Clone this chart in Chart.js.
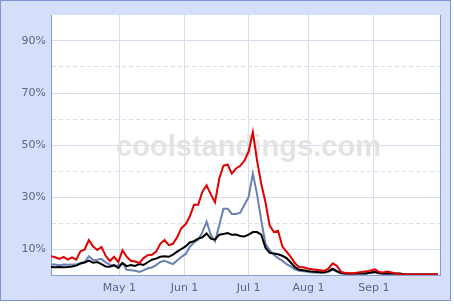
<!DOCTYPE html>
<html lang="en">
<head>
    <meta charset="UTF-8">
    <title>Standings chart</title>
    <script src="https://cdn.jsdelivr.net/npm/chart.js"></script>
    <style>
        html, body { margin: 0; padding: 0; background: #fff; }
        canvas { display: block; }
    </style>
</head>
<body>
    <canvas id="standingsChart" width="454" height="304"></canvas>

    <script>
        // one sample every 2 days, starting at day 0
        const DAY_STEP = 2;
        const tickDays = [32.5, 63.5, 94, 122.5, 153.5];
        const tickLabels = ['May 1', 'Jun 1', 'Jul 1', 'Aug 1', 'Sep 1'];

        const redValues = [
            7.2, 6.8, 6.2, 7.0, 5.9, 6.8, 5.9, 9.1, 9.8, 13.4,
            11.0, 9.6, 10.8, 7.4, 5.4, 7.0, 5.0, 9.5, 7.0, 5.5,
            5.2, 4.6, 6.5, 7.6, 7.8, 9.0, 12.0, 13.5, 11.5, 12.0,
            14.5, 18.0, 19.5, 22.5, 27.0, 27.0, 32.0, 34.5, 31.0, 28.0,
            37.0, 42.0, 42.5, 39.0, 41.0, 42.0, 44.0, 47.5, 55.0, 44.0,
            35.0, 28.0, 19.0, 16.5, 17.0, 11.0, 9.0, 7.0, 4.5, 3.0,
            3.0, 2.5, 2.2, 2.0, 1.8, 1.6, 2.5, 4.5, 3.5, 1.2,
            0.8, 0.6, 0.7, 1.0, 1.2, 1.4, 1.7, 2.2, 1.2, 1.0,
            1.3, 1.0, 0.6, 0.3, 0.2, 0.2, 0.2, 0.2, 0.2, 0.2,
            0.2, 0.2, 0.2
        ];
        const blueValues = [
            4.0, 4.0, 3.8, 4.0, 3.9, 4.0, 4.0, 4.6, 5.0, 7.2,
            5.8, 5.9, 6.2, 4.8, 4.0, 3.4, 3.8, 4.6, 2.0, 1.8,
            1.6, 1.2, 1.8, 2.6, 2.9, 3.8, 5.0, 5.5, 4.8, 4.2,
            5.6, 7.0, 8.0, 10.8, 12.5, 13.5, 16.5, 20.5, 15.5, 13.0,
            19.0, 25.5, 25.5, 23.5, 23.5, 24.0, 27.0, 30.0, 39.0, 31.0,
            21.0, 12.0, 9.5, 7.8, 6.5, 5.5, 4.2, 3.3, 2.2, 1.6,
            1.4, 1.2, 1.0, 1.0, 0.9, 0.9, 1.2, 2.0, 1.2, 0.6,
            0.5, 0.5, 0.5, 0.6, 0.6, 0.7, 0.8, 1.0, 0.6, 0.5,
            0.5, 0.5, 0.5, 0.5, 0.2, 0.2, 0.2, 0.2, 0.2, 0.2,
            0.2, 0.2, 0.2
        ];
        const blackValues = [
            3.1, 3.0, 3.1, 3.0, 3.1, 3.3, 3.6, 4.4, 4.8, 5.5,
            4.7, 5.0, 4.2, 3.3, 3.2, 3.8, 2.7, 4.6, 3.4, 3.8,
            3.5, 4.2, 3.9, 4.9, 5.9, 6.3, 7.0, 7.2, 7.0, 7.8,
            9.0, 10.0, 11.0, 12.5, 13.0, 14.0, 14.5, 16.0, 14.0, 13.6,
            15.5, 15.8, 16.1, 15.5, 15.6, 15.0, 14.8, 15.5, 16.5, 16.5,
            15.5, 10.5, 8.5, 8.3, 8.0, 7.4, 6.5, 4.8, 3.0, 2.0,
            1.8, 1.5, 1.3, 1.2, 1.1, 1.1, 1.5, 2.4, 1.5, 0.8,
            0.6, 0.6, 0.6, 0.6, 0.6, 0.6, 1.0, 1.2, 0.8, 0.6,
            0.6, 0.6, 0.6, 0.6, 0.2, 0.2, 0.2, 0.2, 0.2, 0.2,
            0.2, 0.2, 0.2
        ];

        const toPoints = values => values.map((v, i) => ({ x: i * DAY_STEP, y: v }));

        const gridColor = '#d6ddec';
        const frameColor = '#8a9cd8';
        const labelColor = '#5c6488';
        const labelFont = { family: '"DejaVu Sans", Verdana, sans-serif', size: 11 };

        // frame, white plot area and watermark
        const backdrop = {
            id: 'backdrop',
            beforeDraw(chart) {
                const c = chart.ctx;
                const a = chart.chartArea;
                c.save();
                c.fillStyle = '#ffffff';
                c.fillRect(0, 0, chart.width, chart.height);
                c.fillStyle = '#d5dff9';
                c.fillRect(0, 0, 451, 301);
                c.strokeStyle = '#7f93d6';
                c.lineWidth = 1;
                c.strokeRect(0.5, 0.5, 450, 300);
                c.fillStyle = '#ffffff';
                c.fillRect(a.left, a.top, a.right - a.left, a.bottom - a.top);
                c.restore();
            },
            beforeDatasetsDraw(chart) {
                const c = chart.ctx;
                const a = chart.chartArea;
                c.save();
                const text = 'coolstandings.com';
                c.font = 'bold 40px "Liberation Sans", Arial, sans-serif';
                const w = c.measureText(text).width;
                const size = 40 * 265 / w;
                c.font = 'bold ' + size.toFixed(1) + 'px "Liberation Sans", Arial, sans-serif';
                c.fillStyle = '#e3e3e3';
                c.textAlign = 'center';
                c.textBaseline = 'alphabetic';
                c.fillText(text, (a.left + a.right) / 2 + 3, 156);
                // right edge of the plot
                c.strokeStyle = frameColor;
                c.beginPath();
                c.moveTo(Math.round(a.right) + 0.5, a.top);
                c.lineTo(Math.round(a.right) + 0.5, a.bottom);
                c.stroke();
                c.restore();
            }
        };

        const ctx = document.getElementById('standingsChart').getContext('2d');
        new Chart(ctx, {
            type: 'line',
            data: {
                datasets: [
                    { data: toPoints(redValues), borderColor: '#e00000' },
                    { data: toPoints(blackValues), borderColor: '#000000' },
                    { data: toPoints(blueValues), borderColor: '#6a80b4' }
                ]
            },
            options: {
                responsive: false,
                animation: false,
                layout: { padding: { top: 15, right: 14, left: 0, bottom: 0 } },
                plugins: {
                    legend: { display: false },
                    tooltip: { enabled: false }
                },
                elements: {
                    point: { radius: 0 },
                    line: { borderWidth: 2, tension: 0, fill: false }
                },
                scales: {
                    x: {
                        type: 'linear',
                        min: 0,
                        max: 185,
                        afterBuildTicks: scale => {
                            scale.ticks = tickDays.map(v => ({ value: v }));
                        },
                        afterFit: scale => { scale.height = 29; },
                        ticks: {
                            autoSkip: false,
                            maxRotation: 0,
                            padding: 7,
                            color: labelColor,
                            font: labelFont,
                            callback: v => tickLabels[tickDays.indexOf(v)]
                        },
                        grid: { color: gridColor, drawTicks: false },
                        border: { color: frameColor, width: 1 }
                    },
                    y: {
                        min: 0,
                        max: 100,
                        afterFit: scale => { scale.width = 51; },
                        ticks: {
                            stepSize: 10,
                            padding: 5,
                            color: labelColor,
                            font: labelFont,
                            callback: v => (v % 20 === 10 ? v + '%' : '')
                        },
                        grid: {
                            drawTicks: false,
                            color: c => (c.tick && c.tick.value > 0 && c.tick.value < 100) ? gridColor : 'rgba(0,0,0,0)'
                        },
                        border: {
                            color: frameColor,
                            width: 1,
                            dash: c => (c.tick && c.tick.value % 20 === 0) ? [4, 3] : []
                        }
                    }
                }
            },
            plugins: [backdrop]
        });
    </script>
</body>
</html>
